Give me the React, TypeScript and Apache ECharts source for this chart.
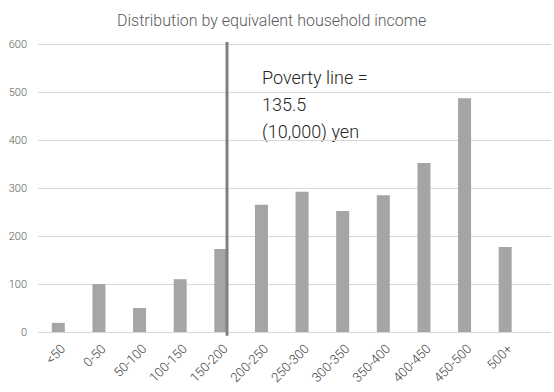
import React, { useEffect, useRef } from "react";
import * as echarts from "echarts";

const categories = ["<50", "0-50", "50-100", "100-150", "150-200", "200-250", "250-300", "300-350", "350-400", "400-450", "450-500", "500+"];
const counts = [19, 100, 50, 110, 173, 265, 292, 252, 285, 352, 487, 177];
const yTicks = { min: 0, max: 600, interval: 100 };
const povertyLine = 135.5;
const povertyLineExtent = [-8, 604];
const povertyAxisMax = 349.5;
const titleText = "Distribution by equivalent household income";
const povertyText = "Poverty line =\n135.5\n(10,000) yen";

export default function App() {
  const ref = useRef<HTMLDivElement>(null);
  useEffect(() => {
    if (!ref.current) return;
    const chart = echarts.init(ref.current, undefined, { renderer: "svg" });
    const font = "Roboto, 'Open Sans', sans-serif";
    chart.setOption({
      animation: false,
      backgroundColor: "#ffffff",
      textStyle: { fontFamily: font },
      title: {
        text: titleText,
        left: 112,
        top: 7,
        textStyle: { fontSize: 16, fontWeight: 300, color: "#595959", fontFamily: font },
      },
      grid: [
        { left: 38, right: 3, top: 44, bottom: 60 },
        { left: 38, right: 28.5, top: 44, bottom: 60 },
      ],
      xAxis: [
        { type: "value", gridIndex: 0, show: false, min: 0, max: 1 },
        {
          type: "category",
          gridIndex: 1,
          data: categories,
          axisLine: { show: false },
          axisTick: { show: false },
          axisLabel: {
            rotate: 45,
            align: "right",
            verticalAlign: "top",
            margin: 10,
            fontSize: 13,
            fontWeight: 300,
            color: "#404040",
            fontFamily: font,
            interval: 0,
          },
        },
        { type: "value", gridIndex: 1, show: false, min: 0, max: povertyAxisMax },
      ],
      yAxis: [
        {
          type: "value",
          gridIndex: 0,
          min: yTicks.min,
          max: yTicks.max,
          interval: yTicks.interval,
          axisLine: { show: false },
          axisTick: { show: false },
          axisLabel: { fontSize: 11, fontWeight: 300, color: "#595959", margin: 11, fontFamily: font },
          splitLine: { lineStyle: { color: "#d9d9d9", width: 1 } },
        },
        { type: "value", gridIndex: 1, show: false, min: yTicks.min, max: yTicks.max, interval: yTicks.interval },
      ],
      series: [
        {
          type: "bar",
          xAxisIndex: 1,
          yAxisIndex: 1,
          data: counts,
          barWidth: 13,
          itemStyle: { color: "#a5a5a5" },
        },
        {
          type: "line",
          xAxisIndex: 2,
          yAxisIndex: 1,
          data: povertyLineExtent.map((v) => [povertyLine, v]),
          symbol: "none",
          clip: false,
          lineStyle: { color: "#808080", width: 3 },
          z: 5,
        },
      ],
      graphic: [
        {
          type: "text",
          left: 262,
          top: 64,
          style: {
            text: povertyText,
            fontSize: 18,
            lineHeight: 27,
            fill: "#262626",
            fontFamily: font,
            fontWeight: 300,
          },
        },
      ],
    });
    return () => chart.dispose();
  }, []);
  return <div ref={ref} style={{ position: "fixed", left: 0, top: 0, width: 554, height: 392 }} />;
}
